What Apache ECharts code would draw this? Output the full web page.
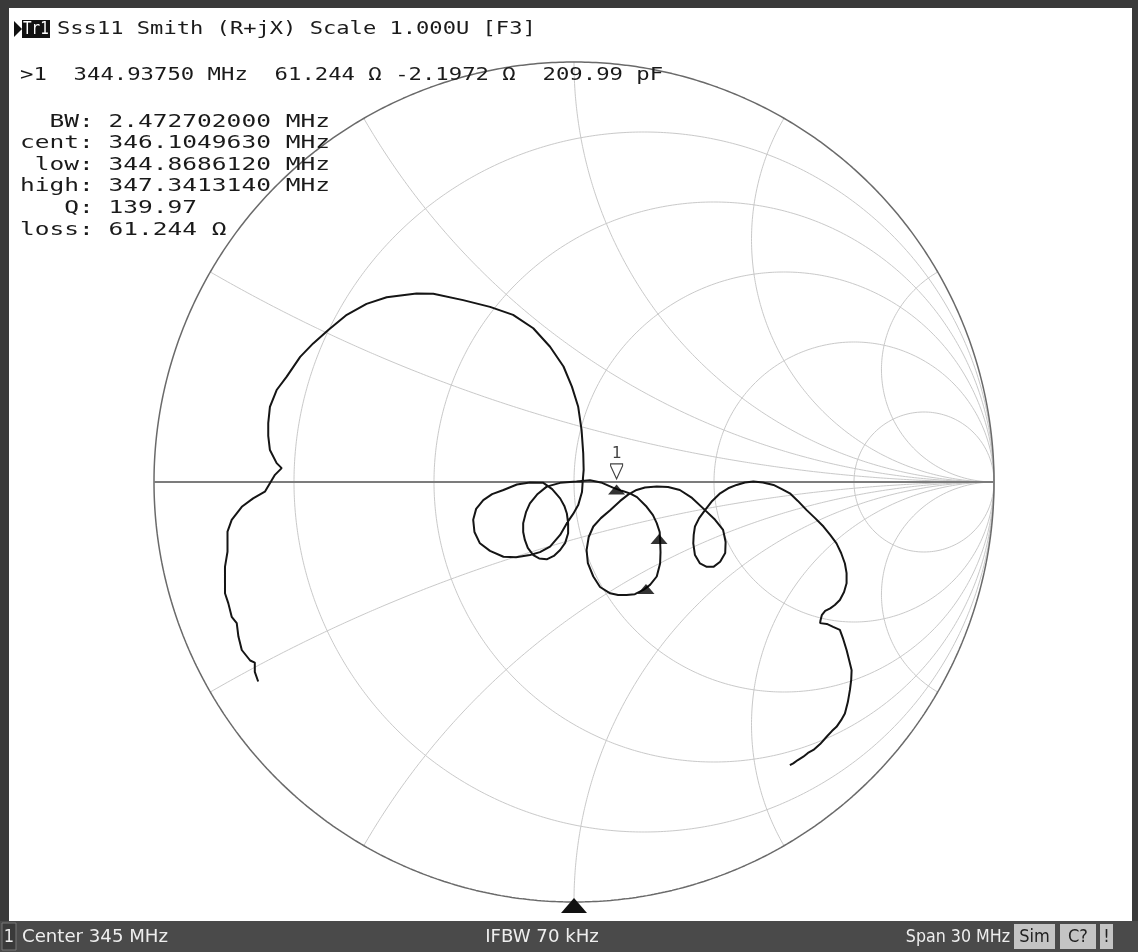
<!DOCTYPE html>
<html><head><meta charset="utf-8">
<script src="https://cdn.jsdelivr.net/npm/echarts@6.0.0/dist/echarts.min.js"></script>
<style>html,body{margin:0;padding:0;background:#3a3a3a}#c{width:1138px;height:952px}</style>
</head><body><div id="c"></div>
<script>
// Smith chart grid values
const resistanceCircles = [0.2, 0.5, 1, 2, 5];
const reactanceArcs = [0.268, 0.577, 1, 1.732, 3.732];

// Measured trace (reflection coefficient, real / imaginary)
const traceRe = [-0.752,-0.760,-0.760,-0.771,-0.791,-0.799,-0.803,-0.815,-0.823,-0.831,-0.831,-0.831,-0.825,-0.825,-0.815,-0.791,-0.764,-0.736,-0.724,-0.712,-0.696,-0.708,-0.724,
-0.728,-0.728,-0.724,-0.708,-0.684,-0.652,-0.621,-0.585,-0.541,-0.494,-0.446,-0.375,-0.335,-0.264,-0.200,-0.145,-0.097,-0.057,-0.025,-0.005,0.010,0.018,0.022,0.023,0.021,
0.019,0.010,-0.002,-0.017,-0.033,-0.057,-0.081,-0.105,-0.138,-0.168,-0.200,-0.224,-0.237,-0.240,-0.233,-0.216,-0.195,-0.168,-0.136,-0.105,-0.073,-0.052,-0.033,-0.023,-0.017,-0.014,-0.014,-0.021,-0.033,-0.048,-0.065,-0.083,-0.097,-0.110,-0.117,-0.121,-0.121,-0.114,-0.105,-0.088,-0.065,-0.033,0.006,0.038,0.067,0.094,0.114,0.133,
0.150,0.173,0.188,0.197,0.204,0.205,0.206,0.205,0.197,0.181,0.165,0.145,0.125,0.105,0.086,0.062,0.046,0.033,0.030,0.035,0.046,0.064,0.086,0.110,0.129,0.149,0.169,0.197,0.224,0.252,0.281,0.312,0.336,0.355,0.361,0.360,0.348,0.332,0.316,0.300,0.288,0.284,0.285,0.288,0.298,0.312,0.329,0.348,0.367,0.387,0.407,0.427,0.450,0.475,0.495,0.514,0.533,0.554,0.574,0.594,0.610,0.625,0.636,0.645,0.649,0.649,0.643,0.633,0.621,0.610,0.598,0.590,0.587,0.586,0.602,0.617,0.633,0.640,0.649,0.655,0.661,0.660,0.657,0.652,0.645,0.636,0.625,0.614,0.602,0.586,0.570,0.557,0.546,0.533,0.522,0.514];
const traceIm = [-0.475,-0.452,-0.430,-0.425,-0.400,-0.368,-0.336,-0.321,-0.289,-0.265,-0.233,-0.202,-0.166,-0.118,-0.090,-0.059,-0.039,-0.023,-0.003,0.017,0.033,0.045,0.076,
0.110,0.140,0.179,0.219,0.251,0.298,0.330,0.362,0.398,0.424,0.440,0.449,0.448,0.433,0.417,0.398,0.366,0.322,0.275,0.227,0.179,0.124,0.068,0.029,0.005,
-0.024,-0.055,-0.076,-0.098,-0.126,-0.154,-0.167,-0.174,-0.179,-0.178,-0.164,-0.146,-0.119,-0.090,-0.064,-0.043,-0.029,-0.019,-0.006,-0.001,-0.002,-0.017,-0.039,-0.057,-0.075,-0.098,-0.122,-0.145,-0.162,-0.176,-0.184,-0.182,-0.174,-0.157,-0.138,-0.119,-0.098,-0.071,-0.051,-0.030,-0.011,-0.002,0.001,0.004,-0.002,-0.014,-0.021,-0.027,
-0.036,-0.059,-0.079,-0.098,-0.119,-0.138,-0.167,-0.194,-0.225,-0.245,-0.257,-0.267,-0.269,-0.269,-0.265,-0.250,-0.225,-0.193,-0.162,-0.131,-0.106,-0.086,-0.067,-0.045,-0.030,-0.019,-0.013,-0.011,-0.012,-0.019,-0.038,-0.067,-0.090,-0.114,-0.143,-0.169,-0.190,-0.202,-0.202,-0.194,-0.174,-0.146,-0.126,-0.106,-0.086,-0.067,-0.045,-0.027,-0.015,-0.007,-0.001,0.001,-0.001,-0.007,-0.017,-0.027,-0.045,-0.067,-0.086,-0.106,-0.126,-0.146,-0.169,-0.194,-0.217,-0.241,-0.262,-0.281,-0.293,-0.301,-0.307,-0.317,-0.329,-0.336,-0.338,-0.345,-0.352,-0.371,-0.400,-0.424,-0.448,-0.471,-0.495,-0.524,-0.551,-0.567,-0.583,-0.593,-0.606,-0.624,-0.638,-0.645,-0.654,-0.662,-0.670,-0.674];

// Markers (bandwidth search markers) and active marker 1
const markerRe = [0.1014, 0.2024, 0.1714];
const markerIm = [-0.0177, -0.136, -0.2548];
const activeMarker = [0.1014, -0.0177];

// Text content
const headerText = 'Sss11 Smith (R+jX) Scale 1.000U [F3]';
const readoutText = '>1  344.93750 MHz  61.244 \u03a9 -2.1972 \u03a9  209.99 pF';
const statLines = ['  BW: 2.472702000 MHz','cent: 346.1049630 MHz',' low: 344.8686120 MHz','high: 347.3413140 MHz','   Q: 139.97','loss: 61.244 \u03a9'];
const statusLeft = 'Center 345 MHz', statusMid = 'IFBW 70 kHz', statusRight = 'Span 30 MHz';

function gamma(r, x) {
  const den = (r + 1) * (r + 1) + x * x;
  return [(r * r - 1 + x * x) / den, 2 * x / den];
}
function rCircle(r) {
  const pts = [[1, 0]];
  for (let i = 1; i < 1440; i++) {
    const phi = -Math.PI / 2 + Math.PI * i / 1440;
    pts.push(gamma(r, Math.tan(phi)));
  }
  pts.push([1, 0]);
  return pts;
}
function xArc(x) {
  const pts = [];
  for (let i = 0; i < 720; i++) {
    const th = Math.PI / 2 * i / 720;
    pts.push(gamma(Math.tan(th), x));
  }
  pts.push([1, 0]);
  return pts;
}
function outer() {
  const pts = [];
  for (let i = 0; i <= 720; i++) { const a = 2 * Math.PI * i / 720; pts.push([Math.cos(a), Math.sin(a)]); }
  return pts;
}
const gridColor = '#c9c9c9';
const series = [];
function lineSeries(data, color, width, z) {
  return { type: 'line', data, showSymbol: false, silent: true, animation: false, clip: false, z,
    lineStyle: { color, width }, symbol: 'none' };
}
resistanceCircles.forEach(r => series.push(lineSeries(rCircle(r), gridColor, 1, 1)));
reactanceArcs.forEach(x => { series.push(lineSeries(xArc(x), gridColor, 1, 1)); series.push(lineSeries(xArc(-x), gridColor, 1, 1)); });
series.push(lineSeries(outer(), '#6a6a6a', 1.5, 2));
series.push(lineSeries([[-1, 0], [1, 0]], '#7c7c7c', 2, 2));
series.push(lineSeries(traceRe.map((v, i) => [v, traceIm[i]]), '#151515', 2, 5));
series.push({ type: 'scatter', data: markerRe.map((v, i) => [v, markerIm[i]]), symbol: 'triangle', symbolSize: [17, 10],
  itemStyle: { color: '#000' }, silent: true, animation: false, z: 6 });
series.push({ type: 'scatter', data: [activeMarker], symbol: 'path://M0,0 L12,0 L12,2 L6,15 L0,2 Z', symbolSize: [12, 15],
  symbolOffset: [0, -18], itemStyle: { color: '#fff', borderColor: '#111', borderWidth: 1.2 }, silent: true, animation: false, z: 7,
  label: { show: true, position: 'top', distance: 1, formatter: '1', color: '#111', fontFamily: 'DejaVu Sans Mono', fontSize: 16 } });

const mono = '18px "DejaVu Sans Mono"';
const ADV = 18 * 0.6021;
function monoText(text, x, y, adv, fill) {
  return { type: 'text', x, y, scaleX: adv / ADV, z: 100, silent: true,
    style: { text, font: mono, fill: fill || '#1a1a1a', textAlign: 'left', textVerticalAlign: 'middle' } };
}
const sans = '18px "Liberation Sans Narrow","DejaVu Sans Condensed",sans-serif';
function sansText(text, x, y, align, fill, sx) {
  return { type: 'text', x, y, scaleX: sx || 1.12, z: 101, silent: true,
    style: { text, font: sans, fill: fill || '#eee', textAlign: align, textVerticalAlign: 'middle' } };
}
const graphics = [
  { type: 'rect', shape: { x: 9, y: 8, width: 1123, height: 913 }, style: { fill: '#ffffff' }, z: -10, silent: true },
  { type: 'rect', shape: { x: 0, y: 921, width: 1138, height: 31 }, style: { fill: '#4a4a4a' }, z: -10, silent: true },
  { type: 'polygon', shape: { points: [[14, 21], [14, 37], [22, 29]] }, style: { fill: '#111' }, z: 100 },
  { type: 'rect', shape: { x: 22, y: 20, width: 28, height: 18 }, style: { fill: '#111' }, z: 100 },
  monoText('Tr1', 23, 29.5, 8.6, '#fff'),
  monoText(headerText, 57, 29.5, 13.3),
  monoText(readoutText, 20, 75.5, 13.4),
  ...statLines.map((t, i) => monoText(t, 20, 122 + 21.6 * i, 14.76)),
  { type: 'polygon', shape: { points: [[561, 913], [587, 913], [574, 898]] }, style: { fill: '#111' }, z: 100 },
  { type: 'rect', shape: { x: 2, y: 923, width: 14, height: 27 }, style: { fill: '#3a3a3a', stroke: '#777', lineWidth: 1 }, z: 100 },
  sansText('1', 9, 937, 'center', '#eee', 1),
  sansText(statusLeft, 22, 937, 'left'),
  sansText(statusMid, 542, 937, 'center'),
  sansText(statusRight, 1010, 937, 'right', '#eee', 0.98),
  { type: 'rect', shape: { x: 1014, y: 924, width: 41, height: 25 }, style: { fill: '#c4c4c4' }, z: 100 },
  sansText('Sim', 1034.5, 937, 'center', '#222', 1),
  { type: 'rect', shape: { x: 1060, y: 924, width: 36, height: 25 }, style: { fill: '#c4c4c4' }, z: 100 },
  sansText('C?', 1078, 937, 'center', '#222', 1),
  { type: 'rect', shape: { x: 1100, y: 924, width: 13, height: 25 }, style: { fill: '#c4c4c4' }, z: 100 },
  sansText('!', 1106.5, 937, 'center', '#222', 1)
];

const chart = echarts.init(document.getElementById('c'), null, { renderer: 'canvas' });
chart.setOption({
  backgroundColor: '#3a3a3a',
  animation: false,
  grid: { left: 154, top: 62, width: 840, height: 840, show: false },
  xAxis: { type: 'value', min: -1, max: 1, show: false },
  yAxis: { type: 'value', min: -1, max: 1, show: false },
  series,
  graphic: { elements: graphics }
});
</script></body></html>
